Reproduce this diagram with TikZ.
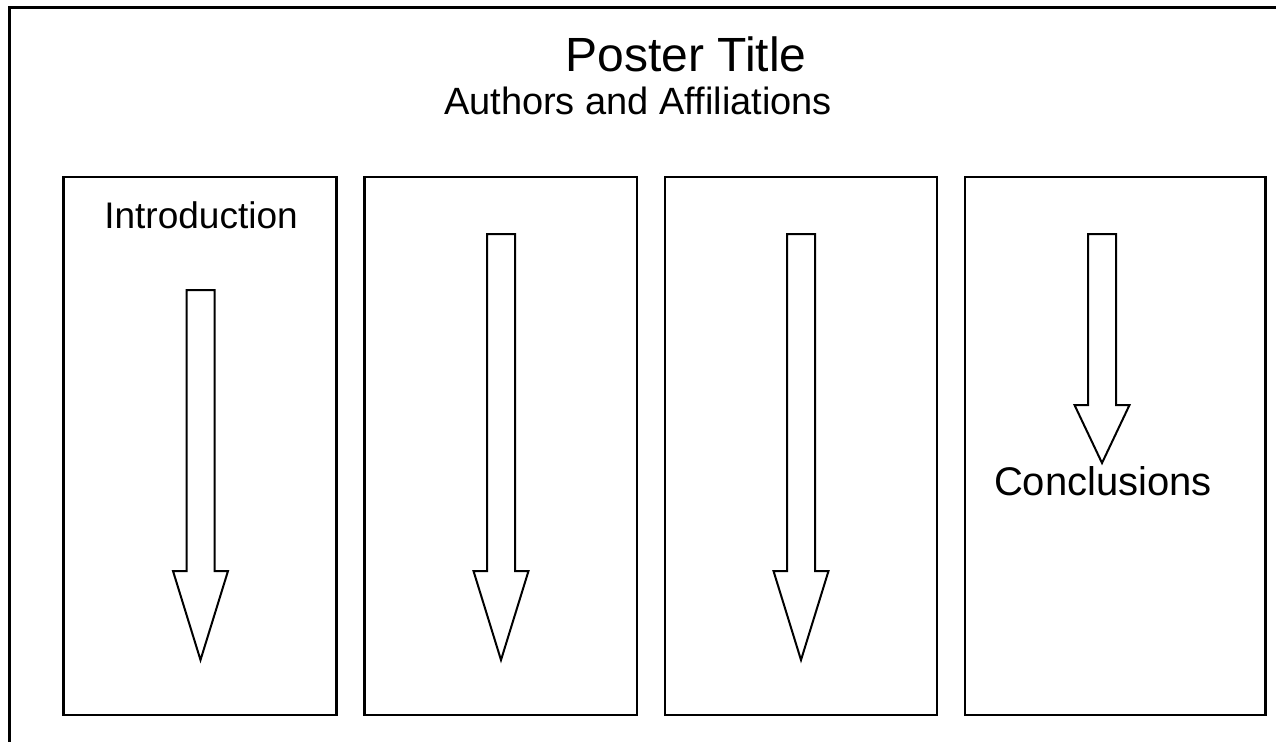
\documentclass[tikz,border=0pt]{standalone}
\usepackage{fontspec}
\setmainfont{Liberation Sans}
\tikzset{
  frame/.style={draw=black, line width=2.4pt},
  panel/.style={draw=black, line width=2.1pt},
  blockarrow/.style={draw=black, line width=2pt, fill=white, line join=miter},
  label/.style={anchor=base, inner sep=0pt, font=\fontsize{37}{42}\selectfont},
  title/.style={anchor=base, inner sep=0pt, font=\fontsize{48}{54}\selectfont}
}
\newcommand{\downarrowshape}[5]{% center x, top y, head base y, tip y, name
  \draw[blockarrow] (#1-14,#2) -- (#1+14,#2) -- (#1+14,#3) -- (#1+27.5,#3) -- (#1,#4) -- (#1-27.5,#3) -- (#1-14,#3) -- cycle;
  \coordinate (#5) at (#1,#4);
}
\begin{document}
\begin{tikzpicture}[x=1pt,y=-1pt]
\useasboundingbox (0,0) rectangle (1276,741);
\begin{scope}
\clip (0,0) rectangle (1276,741);
\draw[frame] (9.5,7.5) rectangle (1300,770);
\end{scope}
% panels
\draw[panel] (63.5,177) rectangle (336.5,715);
\draw[panel] (364.5,177) rectangle (637,715);
\draw[panel] (665,177) rectangle (937,715);
\draw[panel] (965,177) rectangle (1265.5,715);
% titles
\node[title] (title) at (686,72) {Poster Title};
\node[label, font=\fontsize{38}{42}\selectfont] (authors) at (638,115) {Authors and Affiliations};
\node[label] (intro) at (201,228) {Introduction};
% arrows
\downarrowshape{200.5}{290}{571}{660}{a1}
\downarrowshape{501}{234}{571}{660}{a2}
\downarrowshape{801}{234}{571}{660}{a3}
\downarrowshape{1102}{234}{405}{463}{a4}
\node[label, font=\fontsize{40}{44}\selectfont] (concl) at (1103,495) {Conclusions};
\end{tikzpicture}
\end{document}
